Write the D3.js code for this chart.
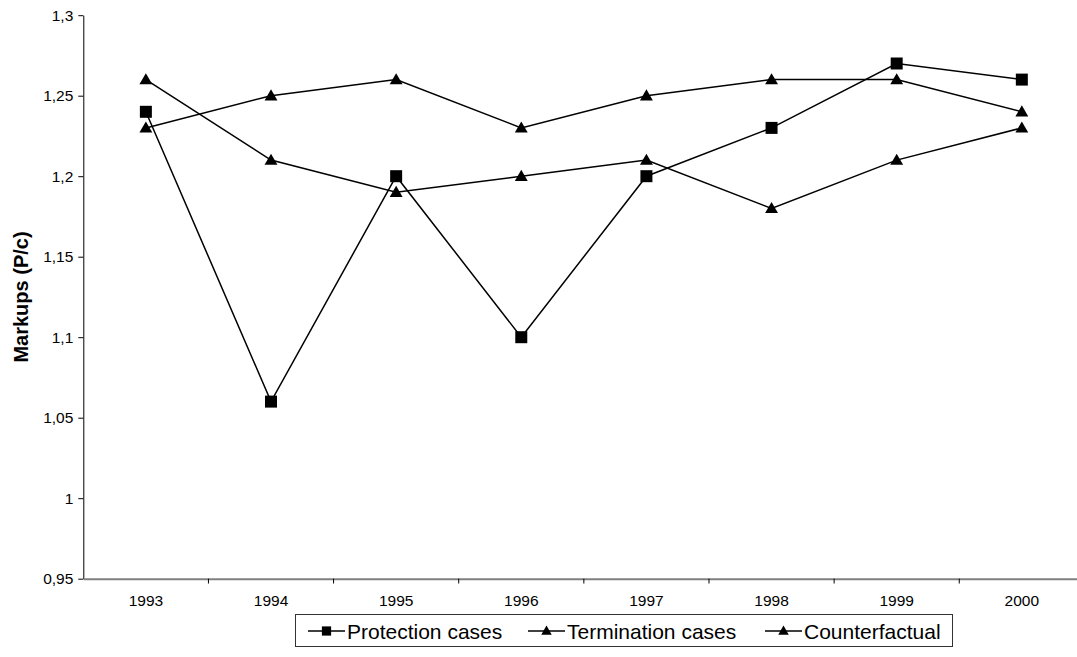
<!DOCTYPE html>
<html><head><meta charset="utf-8">
<script src="https://cdn.jsdelivr.net/npm/d3@7"></script>
<style>body{margin:0;background:#fff}svg{display:block}text{font-family:"Liberation Sans",Arial,sans-serif}</style>
</head><body><svg id="c" width="1077" height="657"></svg>
<script>
const years = ["1993","1994","1995","1996","1997","1998","1999","2000"];
const protection = [1.24,1.06,1.20,1.10,1.20,1.23,1.27,1.26];
const termination = [1.26,1.21,1.19,1.20,1.21,1.18,1.21,1.23];
const counterfactual = [1.23,1.25,1.26,1.23,1.25,1.26,1.26,1.24];
const yTicks = [0.95,1,1.05,1.1,1.15,1.2,1.25,1.3];
const seriesNames = ["Protection cases","Termination cases","Counterfactual"];

const svg = d3.select("#c");
const x = d3.scaleBand().domain(years).range([83.3,1084.4]);
const y = d3.scaleLinear().domain([0.95,1.3]).range([578.7,15.2]);
const fmt = v => String(v).replace(".", ",");

// y axis
const ya = svg.append("g").attr("transform","translate(83.3,0)")
  .call(d3.axisLeft(y).tickValues(yTicks).tickFormat(fmt).tickSize(5).tickSizeOuter(0));
ya.select(".domain").attr("stroke","#000");
ya.selectAll(".tick line").attr("stroke","#000");
ya.selectAll("text").attr("font-size",15.5).attr("fill","#000").attr("x",-10);

// x axis
const xa = svg.append("g").attr("transform","translate(0,578.7)")
  .call(d3.axisBottom(x).tickSize(0).tickSizeOuter(0));
xa.select(".domain").attr("stroke","#808080").attr("stroke-width",2);
xa.selectAll("text").attr("font-size",15.5).attr("fill","#000").attr("dy","1.55em");
// band boundary ticks
svg.append("g").selectAll("line").data(years.slice(1)).join("line")
  .attr("x1",d=>x(d)).attr("x2",d=>x(d)).attr("y1",578.7).attr("y2",583.5)
  .attr("stroke","#000").attr("stroke-width",1);

svg.append("text").attr("transform","translate(27.5,297) rotate(-90)")
  .attr("text-anchor","middle").attr("font-size",20).attr("font-weight","bold").text("Markups (P/c)");

const cx = d => x(d)+x.bandwidth()/2;
const line = d3.line().x((d,i)=>cx(years[i])).y(d=>y(d));
const tri = d3.symbol().type(d3.symbolTriangle).size(72);
const sq = d3.symbol().type(d3.symbolSquare).size(144);

const series = [protection, termination, counterfactual];
const syms = [sq, tri, tri];
series.forEach((s,k)=>{
  svg.append("path").datum(s).attr("d",line).attr("fill","none").attr("stroke","#000").attr("stroke-width",1.5);
});
series.forEach((s,k)=>{
  svg.append("g").selectAll("path").data(s).join("path")
    .attr("d",syms[k]).attr("fill","#000")
    .attr("transform",(d,i)=>`translate(${cx(years[i])},${y(d)+(k>0?1:0)})`);
});

// legend
const lsyms = [d3.symbol().type(d3.symbolSquare).size(85), d3.symbol().type(d3.symbolTriangle).size(48), d3.symbol().type(d3.symbolTriangle).size(48)];
const lg = svg.append("g");
lg.append("rect").attr("x",295.5).attr("y",614.5).attr("width",657).attr("height",32)
  .attr("fill","#fff").attr("stroke","#333").attr("stroke-width",1);
const lx = [308, 528, 765];
seriesNames.forEach((n,k)=>{
  lg.append("line").attr("x1",lx[k]).attr("x2",lx[k]+37).attr("y1",631).attr("y2",631).attr("stroke","#000").attr("stroke-width",1.5);
  lg.append("path").attr("d",lsyms[k]).attr("fill","#000").attr("transform",`translate(${lx[k]+18.5},${631+(k>0?0.7:0)})`);
  lg.append("text").attr("x",lx[k]+39).attr("y",638.5).attr("font-size",21).attr("fill","#000").text(n);
});
</script></body></html>
